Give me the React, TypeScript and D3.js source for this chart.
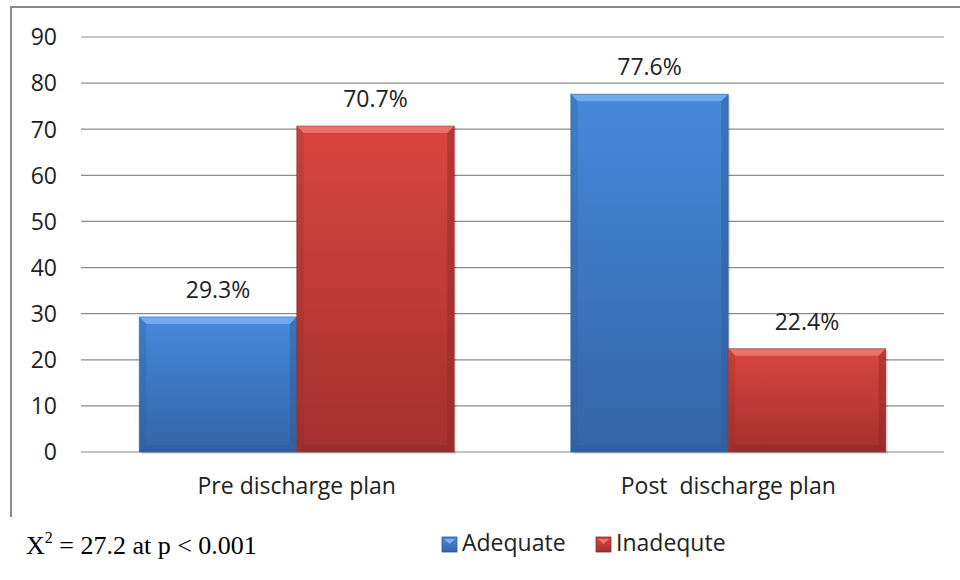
import React from "react";
import * as d3 from "d3";

const categories = ["Pre discharge plan", "Post  discharge plan"];
const series = ["Adequate", "Inadequte"];
const adequate = [29.3, 77.6];
const inadequate = [70.7, 22.4];
const yTicks = [0, 10, 20, 30, 40, 50, 60, 70, 80, 90];
const statText = "= 27.2 at p < 0.001";

const colors: Record<string, { top: string; bottom: string; light: string; dark: string }> = {
  Adequate: { top: "#4689da", bottom: "#3464a6", light: "#79b2f2", dark: "#2d5a96" },
  Inadequte: { top: "#d9463f", bottom: "#a3302f", light: "#ec7a72", dark: "#8c2a28" },
};

const W = 960;
const H = 580;
const FONT = "'Open Sans', sans-serif";

export default function App() {
  const y = d3.scaleLinear().domain([0, 90]).range([452, 37]);
  const x0 = d3.scaleBand().domain(categories).range([81, 944]).padding(0);
  const x1 = d3
    .scaleBand()
    .domain(series)
    .range([0, x0.bandwidth()])
    .paddingInner(0)
    .paddingOuter(0.37);

  const rows = categories.map((c, i) => ({
    cat: c,
    vals: [
      { key: series[0], v: adequate[i] },
      { key: series[1], v: inadequate[i] },
    ],
  }));

  const bevel = 7;

  return (
    <svg
      width={W}
      height={H}
      style={{ position: "absolute", left: 0, top: 0, background: "#fff" }}
    >
      <defs>
        {series.map((s) => (
          <linearGradient key={s} id={`g-${s}`} x1="0" y1="0" x2="0" y2="1">
            <stop offset="0" stopColor={colors[s].top} />
            <stop offset="1" stopColor={colors[s].bottom} />
          </linearGradient>
        ))}
      </defs>

      {/* frame */}
      <line x1={11} x2={W} y1={7} y2={7} stroke="#8a8a8a" strokeWidth={2} />
      <line x1={11} x2={11} y1={6} y2={517} stroke="#8a8a8a" strokeWidth={2} />

      {/* grid + y labels */}
      {yTicks.map((t) => (
        <g key={t}>
          <line x1={81} x2={944} y1={y(t)} y2={y(t)} stroke="#8c8c8c" strokeWidth={1.2} />
          <text
            x={57}
            y={y(t)}
            dy="0.36em"
            textAnchor="end"
            fontFamily={FONT}
            fontSize={23}
            fill="#222"
          >
            {t}
          </text>
        </g>
      ))}

      {/* bars */}
      {rows.map((r) => (
        <g key={r.cat} transform={`translate(${x0(r.cat)},0)`}>
          {r.vals.map((d) => {
            const bx = x1(d.key)!;
            const bw = x1.bandwidth();
            const top = y(d.v);
            const bot = y(0);
            const c = colors[d.key];
            return (
              <g key={d.key}>
                <rect x={bx + 2} y={top + 2} width={bw} height={bot - top} fill="#000" opacity={0.12} />
                <rect x={bx} y={top} width={bw} height={bot - top} fill={`url(#g-${d.key})`} />
                <polygon
                  points={`${bx},${top} ${bx + bw},${top} ${bx + bw - bevel},${top + bevel} ${bx + bevel},${top + bevel}`}
                  fill={c.light}
                  opacity={0.85}
                />
                <polygon
                  points={`${bx},${top} ${bx + bevel},${top + bevel} ${bx + bevel},${bot - bevel} ${bx},${bot}`}
                  fill={c.dark}
                  opacity={0.25}
                />
                <polygon
                  points={`${bx + bw},${top} ${bx + bw - bevel},${top + bevel} ${bx + bw - bevel},${bot - bevel} ${bx + bw},${bot}`}
                  fill={c.dark}
                  opacity={0.45}
                />
                <polygon
                  points={`${bx},${bot} ${bx + bevel},${bot - bevel} ${bx + bw - bevel},${bot - bevel} ${bx + bw},${bot}`}
                  fill={c.dark}
                  opacity={0.45}
                />
                <rect x={bx} y={top} width={bw} height={bot - top} fill="none" stroke={c.dark} strokeOpacity={0.5} strokeWidth={1} />
                <text
                  x={bx + bw / 2}
                  y={top - 19}
                  textAnchor="middle"
                  fontFamily={FONT}
                  fontSize={23}
                  fill="#222"
                >
                  {d.v.toFixed(1)}%
                </text>
              </g>
            );
          })}
          <text
            x={x0.bandwidth() / 2}
            y={494}
            textAnchor="middle"
            fontFamily={FONT}
            fontSize={23}
            fill="#222"
            style={{ whiteSpace: "pre" }}
          >
            {r.cat}
          </text>
        </g>
      ))}

      {/* statistic */}
      <text x={26} y={554} fontFamily="'Liberation Serif', 'Times New Roman', serif" fontSize={26} fill="#000">
        X
        <tspan fontSize={16} dy={-11}>2</tspan>
        <tspan dy={11}> {statText}</tspan>
      </text>

      {/* legend */}
      {series.map((s, i) => {
        const lx = 442 + i * 154;
        const ly = 537;
        const c = colors[s];
        return (
          <g key={s}>
            <rect x={lx} y={ly} width={15} height={15} fill={`url(#g-${s})`} stroke={c.dark} strokeWidth={0.8} />
            <polygon points={`${lx + 2},${ly + 2} ${lx + 13},${ly + 2} ${lx + 7.5},${ly + 7}`} fill={c.light} />
            <text x={lx + 20} y={551} fontFamily={FONT} fontSize={23} fill="#222">
              {s}
            </text>
          </g>
        );
      })}
    </svg>
  );
}
